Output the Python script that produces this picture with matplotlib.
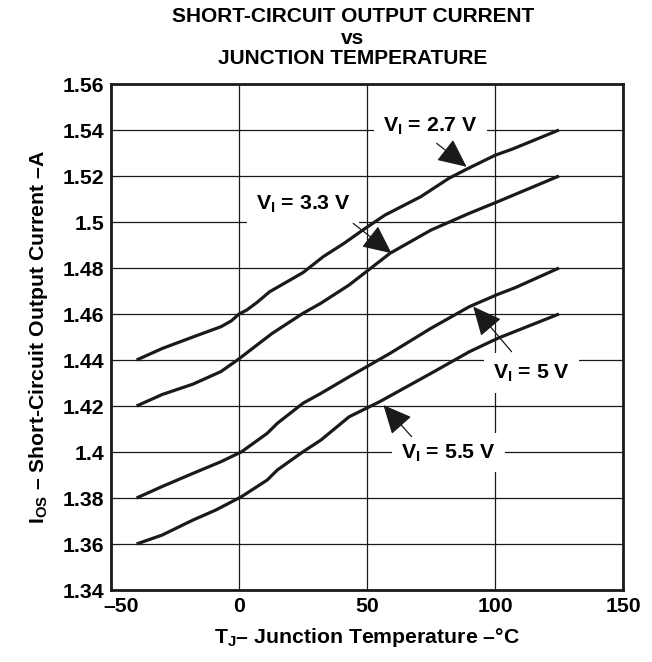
import matplotlib
matplotlib.use("Agg")
import matplotlib.pyplot as plt
import matplotlib.transforms as mtransforms

plt.rcParams['font.family'] = ['Liberation Sans', 'DejaVu Sans']
plt.rcParams['font.weight'] = 'bold'
plt.rcParams['mathtext.fontset'] = 'custom'
plt.rcParams['mathtext.rm'] = 'Liberation Sans:bold'
plt.rcParams['mathtext.it'] = 'Liberation Sans:bold'
plt.rcParams['mathtext.bf'] = 'Liberation Sans:bold'

# ---- data ----
t_27 = [-40, -30, -18, -7, -3, 0, 3, 7, 12, 20, 25, 33, 41, 49, 57, 71, 82, 89, 100, 107, 125]
i_27 = [1.440, 1.445, 1.450, 1.4545, 1.457, 1.460, 1.4617, 1.465, 1.4697, 1.4748, 1.478,
        1.485, 1.4907, 1.497, 1.503, 1.511, 1.519, 1.523, 1.529, 1.5318, 1.540]

t_33 = [-40, -30, -18, -7, 0, 7, 13, 25, 32, 43, 59, 75, 90, 101, 125]
i_33 = [1.420, 1.425, 1.4295, 1.435, 1.4405, 1.4465, 1.4516, 1.4603, 1.4647, 1.4726,
        1.4864, 1.4965, 1.5038, 1.5088, 1.520]

t_50 = [-40, -30, -18, -7, 1, 11, 15, 25, 32, 43, 59, 75, 90, 101, 108, 125]
i_50 = [1.380, 1.385, 1.3907, 1.3958, 1.4001, 1.4081, 1.4125, 1.4212, 1.4255, 1.4327,
        1.4429, 1.4538, 1.4632, 1.4685, 1.4715, 1.480]

t_55 = [-40, -30, -18, -9, 1, 11, 15, 25, 32, 43, 55, 75, 90, 101, 125]
i_55 = [1.360, 1.3639, 1.3704, 1.3748, 1.3806, 1.3878, 1.3922, 1.4001, 1.4052, 1.4153,
        1.4219, 1.4342, 1.4436, 1.4494, 1.460]

x_ticks = [-50, 0, 50, 100, 150]
x_tick_labels = ['\u201350', '0', '50', '100', '150']
y_ticks = [1.34, 1.36, 1.38, 1.40, 1.42, 1.44, 1.46, 1.48, 1.50, 1.52, 1.54, 1.56]
y_tick_labels = ['1.34', '1.36', '1.38', '1.4', '1.42', '1.44', '1.46', '1.48', '1.5',
                 '1.52', '1.54', '1.56']

labels = [r'$\mathrm{V_I}$ = 2.7 V', r'$\mathrm{V_I}$ = 3.3 V',
          r'$\mathrm{V_I}$ = 5 V', r'$\mathrm{V_I}$ = 5.5 V']
label_pos = [(74.9, 1.5393), (25.0, 1.5052), (114.3, 1.4320), (81.8, 1.3973)]
arrow_tail = [(77.2, 1.5342), (44.6, 1.4994), (106.5, 1.4436), (67.4, 1.4067)]
arrow_tip = [(88.9, 1.5240), (59.6, 1.4864), (91.5, 1.4632), (56.4, 1.4204)]

FS = 15.3

fig = plt.figure(figsize=(6.52, 6.62), dpi=100)
ax = fig.add_axes([111/652, 1 - 590/662, 512/652, 506/662])

for t, i in [(t_27, i_27), (t_33, i_33), (t_50, i_50), (t_55, i_55)]:
    ax.plot(t, i, color='#1a1a1a', lw=2.3, zorder=4, solid_capstyle='butt',
            solid_joinstyle='round')

ax.set_xlim(-50, 150)
ax.set_ylim(1.34, 1.56)
ax.set_xticks(x_ticks)
ax.set_xticklabels(x_tick_labels)
ax.set_yticks(y_ticks)
ax.set_yticklabels(y_tick_labels)
ax.tick_params(length=0, labelsize=FS, pad=5)
for lab in ax.get_xticklabels() + ax.get_yticklabels():
    lab.set_fontweight('bold')
# the first x label sits slightly right of its grid line in the reference
first = ax.get_xticklabels()[0]
first.set_transform(first.get_transform() +
                    mtransforms.ScaledTranslation(10/100, 0, fig.dpi_scale_trans))

ax.grid(True, color='#1a1a1a', lw=0.9, zorder=1)
ax.set_axisbelow(True)
for s in ax.spines.values():
    s.set_linewidth(2.0)
    s.set_color('#1a1a1a')

for txt, pos, tail, tip in zip(labels, label_pos, arrow_tail, arrow_tip):
    ax.text(pos[0], pos[1], txt, ha='center', va='baseline', fontsize=FS,
            fontweight='bold', zorder=3,
            bbox=dict(boxstyle='square,pad=0.42', fc='white', ec='none'))
    ax.annotate('', xy=tip, xytext=tail, zorder=5,
                arrowprops=dict(arrowstyle='-|>,head_length=0.9,head_width=0.42',
                                color='#1a1a1a', lw=0.9, mutation_scale=20,
                                shrinkA=0, shrinkB=0))

ax.set_xlabel(r'$\mathrm{T_J}$' + '\u2013 Junction Temperature \u2013\u00b0C',
              fontsize=FS, fontweight='bold', labelpad=7)
ax.set_ylabel(r'$\mathrm{I_{OS}}$' + ' \u2013 Short-Circuit Output Current \u2013A',
              fontsize=FS, fontweight='bold', labelpad=9)

fx = 353/652
fig.text(fx, 1 - 17/662, 'SHORT-CIRCUIT OUTPUT CURRENT', ha='center', va='center',
         fontsize=15, fontweight='bold')
fig.text(fx, 1 - 38/662, 'vs', ha='center', va='center', fontsize=15, fontweight='bold')
fig.text(fx, 1 - 59/662, 'JUNCTION TEMPERATURE', ha='center', va='center',
         fontsize=15, fontweight='bold')

fig.savefig('out.png', dpi=100)
